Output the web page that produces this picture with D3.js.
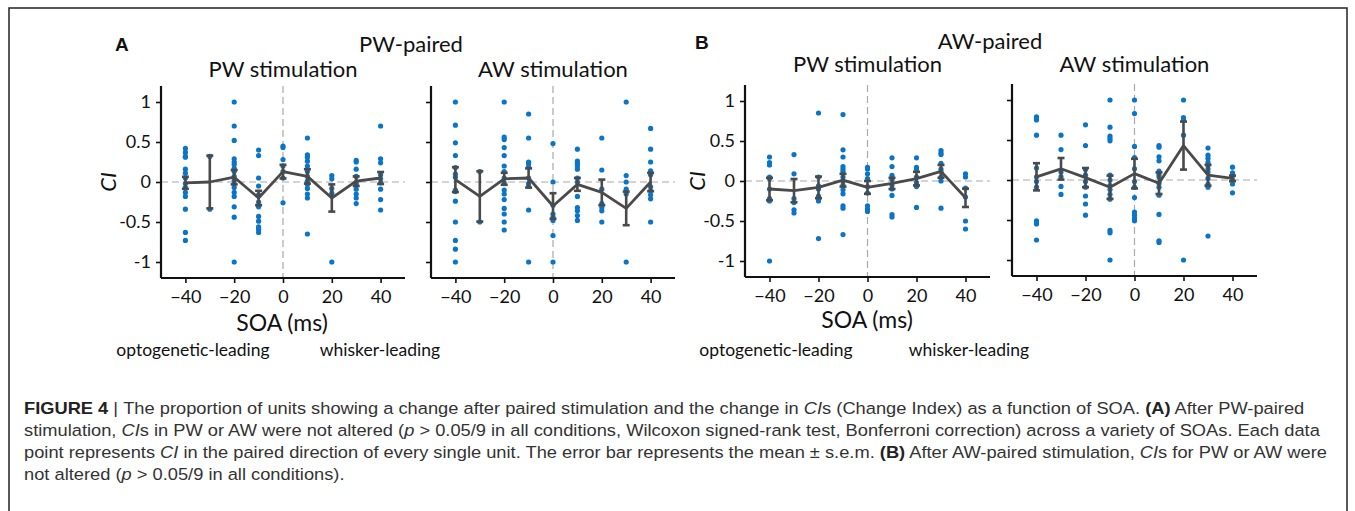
<!DOCTYPE html>
<html>
<head>
<meta charset="utf-8">
<script src="https://cdn.jsdelivr.net/npm/d3@7"></script>
<style>
  body { margin: 0; background: #fff; }
  svg { display: block; }
  .chart-text { font-family: Lato, "Open Sans", sans-serif; fill: #111; }
  .caption { font-family: "Liberation Sans", Arial, sans-serif; fill: #333; font-size: 16.5px; }
</style>
</head>
<body>
<svg id="fig" width="1355" height="511"></svg>
<script>
// SOA values (ms) where units were measured
const soa = [-40, -30, -20, -10, 0, 10, 20, 30, 40];
const xTicks = [-40, -20, 0, 20, 40];
const yTicks = [-1, -0.5, 0, 0.5, 1];
const yTickLabels = ['-1', '-0.5', '0', '0.5', '1'];

// PW-paired, PW stimulation
const pwPairedPwDots = [
  [0.42, 0.37, 0.32, 0.31, 0.16, 0.11, 0.05, -0.02, -0.07, -0.13, -0.18, -0.34, -0.63, -0.73],
  [0.32, -0.34],
  [1.0, 0.70, 0.52, 0.29, 0.25, 0.22, 0.17, 0.13, 0.07, 0.02, -0.02, -0.07, -0.13, -0.18, -0.31, -0.44, -1.0],
  [0.40, 0.33, 0.05, -0.05, -0.16, -0.25, -0.31, -0.43, -0.49, -0.56, -0.59, -0.63],
  [0.45, 0.43, 0.28, 0.20, 0.13, 0.05, -0.26],
  [0.55, 0.34, 0.31, 0.26, 0.20, 0.13, 0.07, 0.01, -0.03, -0.08, -0.15, -0.20, -0.65],
  [0.08, 0.04, -0.08, -0.14, -1.0],
  [0.27, 0.25, 0.16, 0.07, 0.0, -0.03, -0.09, -0.15, -0.20, -0.27],
  [0.70, 0.29, 0.24, 0.09, 0.04, -0.01, -0.09, -0.22, -0.35]
];
const pwPairedPwMean = [-0.01, 0.0, 0.06, -0.20, 0.13, 0.07, -0.20, 0.01, 0.05];
const pwPairedPwSem = [0.075, 0.33, 0.09, 0.09, 0.085, 0.09, 0.17, 0.06, 0.075];

// PW-paired, AW stimulation
const pwPairedAwDots = [
  [1.0, 0.71, 0.49, 0.33, 0.18, 0.10, 0.06, -0.10, -0.12, -0.24, -0.50, -0.73, -0.84, -1.0],
  [0.13, -0.50],
  [1.0, 0.56, 0.53, 0.43, 0.33, 0.20, 0.13, 0.05, -0.01, -0.10, -0.15, -0.22, -0.33, -0.40, -0.50, -0.60],
  [0.85, 0.55, 0.25, 0.23, 0.19, 0.05, -0.02, -0.05, -0.35, -1.0],
  [0.48, 0.0, -0.29, -0.40, -0.44, -0.48, -0.67, -1.0],
  [0.41, 0.26, 0.23, 0.20, 0.16, 0.05, 0.0, -0.18, -0.32, -0.36, -0.42, -0.48],
  [0.55, 0.15, -0.09, -0.27, -0.32, -0.36, -0.50],
  [1.0, 0.08, 0.0, -0.09, -0.15, -1.0],
  [0.67, 0.41, 0.25, 0.14, 0.09, -0.06, -0.11, -0.16, -0.21, -0.50]
];
const pwPairedAwMean = [0.03, -0.18, 0.04, 0.05, -0.30, -0.03, -0.13, -0.33, 0.0];
const pwPairedAwSem = [0.155, 0.315, 0.075, 0.12, 0.16, 0.08, 0.16, 0.21, 0.115];

// AW-paired, PW stimulation
const awPairedPwDots = [
  [0.30, 0.23, 0.20, 0.05, 0.03, -0.10, -0.22, -0.25, -1.0],
  [0.33, 0.09, -0.22, -0.27, -0.36, -0.40],
  [0.85, 0.05, -0.06, -0.10, -0.19, -0.22, -0.25, -0.72],
  [0.83, 0.39, 0.30, 0.18, 0.15, 0.12, 0.05, 0.0, -0.05, -0.11, -0.16, -0.31, -0.34, -0.67],
  [0.17, 0.15, 0.09, 0.03, -0.07, -0.15, -0.31, -0.35, -0.38],
  [0.29, 0.18, 0.07, 0.02, -0.05, -0.10, -0.18, -0.42, -0.45],
  [0.29, 0.17, 0.15, 0.05, -0.02, -0.07, -0.33],
  [0.38, 0.35, 0.33, 0.22, 0.15, 0.12, 0.05, 0.0, -0.34],
  [0.09, 0.05, -0.09, -0.20, -0.50, -0.60]
];
const awPairedPwMean = [-0.10, -0.12, -0.08, 0.01, -0.08, -0.03, 0.03, 0.12, -0.21];
const awPairedPwSem = [0.14, 0.145, 0.135, 0.08, 0.08, 0.07, 0.085, 0.08, 0.115];

// AW-paired, AW stimulation
const awPairedAwDots = [
  [0.79, 0.77, 0.75, 0.56, 0.15, 0.04, -0.02, -0.09, -0.51, -0.53, -0.55, -0.75],
  [0.56, 0.38, 0.10, 0.04, -0.08, -0.18],
  [0.69, 0.43, 0.13, 0.06, -0.02, -0.09, -0.20, -0.30, -0.44],
  [1.0, 0.66, 0.55, 0.52, 0.49, 0.06, 0.0, -0.07, -0.12, -0.18, -0.24, -0.63, -0.66, -1.0],
  [1.0, 0.83, 0.42, 0.28, 0.14, -0.02, -0.09, -0.22, -0.40, -0.44, -0.48, -0.51],
  [0.43, 0.41, 0.29, 0.24, 0.11, 0.07, 0.04, -0.04, -0.09, -0.19, -0.43, -0.76, -0.78],
  [1.0, 0.78, 0.75, 0.56, -1.0],
  [0.40, 0.31, 0.27, 0.22, 0.18, 0.14, 0.10, 0.02, -0.05, -0.09, -0.70],
  [0.16, 0.09, 0.05, 0.0, -0.05, -0.16]
];
const awPairedAwMean = [0.04, 0.14, 0.03, -0.09, 0.08, -0.04, 0.43, 0.06, 0.02];
const awPairedAwSem = [0.17, 0.135, 0.12, 0.145, 0.185, 0.135, 0.30, 0.13, 0.035];

const svg = d3.select('#fig');

// figure frame
svg.append('rect')
  .attr('x', 9).attr('y', 8)
  .attr('width', 1338).attr('height', 520)
  .attr('fill', 'none').attr('stroke', '#222').attr('stroke-width', 1.5);

const panels = [
  { dots: pwPairedPwDots, mean: pwPairedPwMean, sem: pwPairedPwSem, x0: 161, x1: 405, y0: 278, y1: 86, labels: true, title: 'PW stimulation', titleY: 71 },
  { dots: pwPairedAwDots, mean: pwPairedAwMean, sem: pwPairedAwSem, x0: 431, x1: 675, y0: 278, y1: 86, labels: false, title: 'AW stimulation', titleY: 71 },
  { dots: awPairedPwDots, mean: awPairedPwMean, sem: awPairedPwSem, x0: 745, x1: 990, y0: 277, y1: 85, labels: true, title: 'PW stimulation', titleY: 66 },
  { dots: awPairedAwDots, mean: awPairedAwMean, sem: awPairedAwSem, x0: 1012, x1: 1257, y0: 276, y1: 84, labels: false, title: 'AW stimulation', titleY: 66 }
];

const drawPanel = (p) => {
  const x = d3.scaleLinear().domain([-50, 50]).range([p.x0, p.x1]);
  const y = d3.scaleLinear().domain([-1.2, 1.2]).range([p.y0, p.y1]);
  const g = svg.append('g');

  // reference lines
  g.append('line')
    .attr('x1', p.x0).attr('x2', p.x1).attr('y1', y(0)).attr('y2', y(0))
    .attr('stroke', '#aaa').attr('stroke-width', 1.2).attr('stroke-dasharray', '7,4');
  g.append('line')
    .attr('x1', x(0)).attr('x2', x(0)).attr('y1', p.y1).attr('y2', p.y0)
    .attr('stroke', '#aaa').attr('stroke-width', 1.2).attr('stroke-dasharray', '7,4');

  // unit dots
  const pts = p.dots.flatMap((vals, i) => vals.map(v => ({ s: soa[i], v })));
  g.selectAll('circle.dot').data(pts).enter().append('circle')
    .attr('class', 'dot')
    .attr('cx', d => x(d.s)).attr('cy', d => y(d.v))
    .attr('r', 2.6).attr('fill', '#0a74c8');

  // error bars
  const eb = soa.map((s, i) => ({ s, m: p.mean[i], e: p.sem[i] }));
  const ebG = g.selectAll('g.eb').data(eb).enter().append('g').attr('class', 'eb');
  ebG.append('line')
    .attr('x1', d => x(d.s)).attr('x2', d => x(d.s))
    .attr('y1', d => y(d.m - d.e)).attr('y2', d => y(d.m + d.e))
    .attr('stroke', '#4a4a4a').attr('stroke-width', 2.6);
  [-1, 1].forEach(sgn => {
    ebG.append('line')
      .attr('x1', d => x(d.s) - 3.5).attr('x2', d => x(d.s) + 3.5)
      .attr('y1', d => y(d.m + sgn * d.e)).attr('y2', d => y(d.m + sgn * d.e))
      .attr('stroke', '#4a4a4a').attr('stroke-width', 2.6);
  });

  // mean line
  g.append('path')
    .datum(eb)
    .attr('d', d3.line().x(d => x(d.s)).y(d => y(d.m)))
    .attr('fill', 'none').attr('stroke', '#4a4a4a').attr('stroke-width', 2.8)
    .attr('stroke-linejoin', 'round');

  // axes
  const yAxis = d3.axisLeft(y).tickValues(yTicks).tickSize(5).tickPadding(5)
    .tickFormat((d, i) => p.labels ? yTickLabels[i] : '');
  const xAxis = d3.axisBottom(x).tickValues(xTicks).tickSize(5).tickPadding(7);
  const ya = g.append('g').attr('transform', `translate(${p.x0},0)`).call(yAxis);
  const xa = g.append('g').attr('transform', `translate(0,${p.y0})`).call(xAxis);
  [ya, xa].forEach(a => {
    a.select('.domain').attr('stroke', '#111').attr('stroke-width', 2.2);
    a.selectAll('.tick line').attr('stroke', '#111').attr('stroke-width', 1.6);
    a.selectAll('.tick text').attr('class', 'chart-text').style('font-size', '18px').attr('fill', '#111');
  });
  ya.select('.domain').attr('d', `M0,${p.y1}V${p.y0}`);
  xa.select('.domain').attr('d', `M${p.x0},0H${p.x1}`);

  // subplot title
  svg.append('text').attr('class', 'chart-text')
    .attr('x', (p.x0 + p.x1) / 2).attr('y', p.titleY)
    .attr('text-anchor', 'middle').attr('dominant-baseline', 'middle')
    .style('font-size', '22px').text(p.title);

  return { x, y };
};

panels.forEach(drawPanel);

// panel letters and group titles
const letter = (t, xPos, yPos) => svg.append('text')
  .attr('x', xPos).attr('y', yPos).attr('dominant-baseline', 'middle')
  .style('font-family', '"Liberation Sans", Arial, sans-serif')
  .style('font-weight', 'bold').style('font-size', '19px').attr('fill', '#111').text(t);
letter('A', 115, 46);
letter('B', 695, 44);

const groupTitle = (t, xPos, yPos) => svg.append('text').attr('class', 'chart-text')
  .attr('x', xPos).attr('y', yPos).attr('text-anchor', 'middle').attr('dominant-baseline', 'middle')
  .style('font-size', '22px').text(t);
groupTitle('PW-paired', 411, 46);
groupTitle('AW-paired', 990, 43);

// y axis titles (italic CI)
const yTitle = (xPos, yPos) => svg.append('text').attr('class', 'chart-text')
  .attr('transform', `translate(${xPos},${yPos}) rotate(-90)`)
  .attr('text-anchor', 'middle').attr('dominant-baseline', 'middle')
  .style('font-size', '22px').style('font-style', 'italic').text('CI');
yTitle(110, 182);
yTitle(699, 181);

// x axis titles and direction notes
const plain = (t, xPos, yPos, size) => svg.append('text').attr('class', 'chart-text')
  .attr('x', xPos).attr('y', yPos).attr('text-anchor', 'middle').attr('dominant-baseline', 'middle')
  .style('font-size', size + 'px').text(t);
plain('SOA (ms)', 282, 325, 23);
plain('SOA (ms)', 867, 322, 23);
plain('optogenetic-leading', 193, 352, 17.5);
plain('whisker-leading', 380, 352, 17.5);
plain('optogenetic-leading', 776, 352, 17.5);
plain('whisker-leading', 969, 352, 17.5);

// caption
const captionLines = [
  [['FIGURE 4', 'b'], [' | ', ''], ['The proportion of units showing a change after paired stimulation and the change in ', ''], ['CI', 'i'], ['s (Change Index) as a function of SOA. ', ''], ['(A)', 'b'], [' After PW-paired', '']],
  [['stimulation, ', ''], ['CI', 'i'], ['s in PW or AW were not altered (', ''], ['p', 'i'], [' > 0.05/9 in all conditions, Wilcoxon signed-rank test, Bonferroni correction) across a variety of SOAs. Each data', '']],
  [['point represents ', ''], ['CI', 'i'], [' in the paired direction of every single unit. The error bar represents the mean \u00b1 s.e.m. ', ''], ['(B)', 'b'], [' After AW-paired stimulation, ', ''], ['CI', 'i'], ['s for PW or AW were', '']],
  [['not altered (', ''], ['p', 'i'], [' > 0.05/9 in all conditions).', '']]
];
const captionY = [409, 431, 453, 475];
captionLines.forEach((parts, li) => {
  const t = svg.append('text').attr('class', 'caption')
    .attr('transform', `translate(24,${captionY[li]}) scale(1.108,1)`)
    .attr('dominant-baseline', 'middle');
  parts.forEach(([s, f]) => {
    t.append('tspan').text(s)
      .style('font-weight', f === 'b' ? 'bold' : 'normal')
      .style('font-style', f === 'i' ? 'italic' : 'normal')
      .attr('fill', f === 'b' ? '#222' : '#333');
  });
});
</script>
</body>
</html>
